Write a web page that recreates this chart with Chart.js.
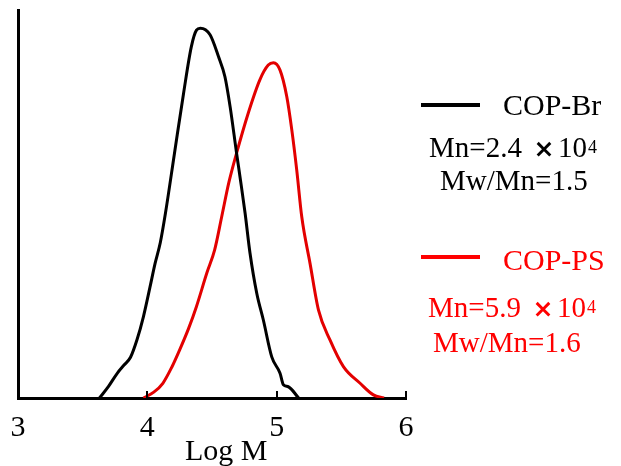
<!DOCTYPE html>
<html>
<head>
<meta charset="utf-8">
<script src="https://cdn.jsdelivr.net/npm/chart.js@4.4.1/dist/chart.umd.min.js"></script>
<style>
  html, body { margin: 0; padding: 0; background: #fff; }
  #wrap { width: 621px; height: 466px; position: relative; }
</style>
</head>
<body>
<div id="wrap"><canvas id="gpc"></canvas></div>
<script>
// GPC traces (normalised intensity vs Log M)
const brLogM = [3.63, 3.70, 3.77, 3.82, 3.87, 3.92, 3.97, 4.02, 4.06, 4.10, 4.14, 4.21, 4.28, 4.34, 4.38, 4.41, 4.485, 4.55, 4.60, 4.64, 4.69, 4.72, 4.756, 4.794, 4.846, 4.897, 4.962, 5.026, 5.052, 5.09, 5.17];
const brInt  = [0.00, 0.03, 0.065, 0.085, 0.105, 0.15, 0.21, 0.285, 0.347, 0.40, 0.476, 0.631, 0.785, 0.905, 0.948, 0.953, 0.936, 0.880, 0.828, 0.751, 0.631, 0.562, 0.476, 0.373, 0.270, 0.201, 0.106, 0.064, 0.034, 0.029, 0.00];
const psLogM = [3.97, 4.05, 4.12, 4.19, 4.25, 4.32, 4.38, 4.46, 4.52, 4.575, 4.63, 4.69, 4.78, 4.87, 4.935, 4.975, 5.026, 5.078, 5.117, 5.155, 5.194, 5.258, 5.323, 5.413, 5.516, 5.645, 5.748, 5.83];
const psInt  = [0.00, 0.015, 0.038, 0.08, 0.124, 0.18, 0.236, 0.322, 0.381, 0.467, 0.555, 0.631, 0.734, 0.820, 0.858, 0.864, 0.845, 0.777, 0.691, 0.588, 0.467, 0.347, 0.227, 0.149, 0.081, 0.038, 0.008, 0.00];
const xTicks = [3, 4, 5, 6];

const seriesNames = ['COP-Br', 'COP-PS'];
const lineColors = ['#000000', '#e30000'];
const textColors = ['#000000', '#ff0000'];
const mnText = ['Mn=2.4', 'Mn=5.9'];
const pdiText = ['Mw/Mn=1.5', 'Mw/Mn=1.6'];

const FONT = '"Liberation Serif", "Times New Roman", serif';

function toPoints(xs, ys) {
    return xs.map((x, i) => ({ x: x, y: ys[i] }));
}

// inward ticks, axis title and the side legend
const decor = {
    id: 'decor',
    afterDraw(chart) {
        const ctx = chart.ctx;
        const xs = chart.scales.x;
        const bottom = chart.chartArea.bottom;
        ctx.save();
        ctx.strokeStyle = '#000';
        ctx.lineWidth = 2;
        xTicks.forEach(t => {
            const px = Math.round(xs.getPixelForValue(t));
            ctx.beginPath();
            ctx.moveTo(px, bottom);
            ctx.lineTo(px, bottom - 7);
            ctx.stroke();
        });

        ctx.fillStyle = '#000';
        ctx.font = '30px ' + FONT;
        ctx.textBaseline = 'alphabetic';
        ctx.textAlign = 'left';
        ctx.fillText('Log M', 185, 460);

        const blocks = [
            { lineY: 105, name: 115, mn: 157, pdi: 190, mnX: 429, pdiX: 440 },
            { lineY: 257, name: 270, mn: 317, pdi: 352, mnX: 428, pdiX: 433 }
        ];
        blocks.forEach((b, i) => {
            const c = textColors[i];
            ctx.strokeStyle = c;
            ctx.lineWidth = 4;
            ctx.beginPath();
            ctx.moveTo(421, b.lineY);
            ctx.lineTo(480, b.lineY);
            ctx.stroke();

            ctx.fillStyle = c;
            ctx.textAlign = 'left';
            ctx.font = '30px ' + FONT;
            ctx.fillText(seriesNames[i], 503, b.name);

            ctx.font = '29px ' + FONT;
            let x = b.mnX;
            ctx.fillText(mnText[i], x, b.mn);
            x += ctx.measureText(mnText[i]).width + 22;
            ctx.font = 'bold 25px "DejaVu Sans", sans-serif';
            ctx.textAlign = 'center';
            ctx.fillText('\u00d7', x, b.mn);
            x += 14;
            ctx.textAlign = 'left';
            ctx.font = '29px ' + FONT;
            ctx.fillText('10', x, b.mn);
            x += ctx.measureText('10').width + 1;
            ctx.font = '18px ' + FONT;
            ctx.fillText('4', x, b.mn - 4);

            ctx.font = '29px ' + FONT;
            ctx.fillText(pdiText[i], b.pdiX, b.pdi);
        });
        ctx.restore();
    }
};

new Chart(document.getElementById('gpc'), {
    type: 'line',
    data: {
        datasets: [
            { label: seriesNames[0], data: toPoints(brLogM, brInt), borderColor: lineColors[0], borderWidth: 3 },
            { label: seriesNames[1], data: toPoints(psLogM, psInt), borderColor: lineColors[1], borderWidth: 3 }
        ]
    },
    options: {
        responsive: true,
        maintainAspectRatio: false,
        animation: false,
        layout: { padding: { top: 10, right: 215, left: 0, bottom: 0 } },
        elements: { point: { radius: 0 }, line: { tension: 0.4, cubicInterpolationMode: 'monotone' } },
        plugins: { legend: { display: false }, tooltip: { enabled: false } },
        scales: {
            x: {
                type: 'linear',
                min: 3,
                max: 6,
                afterFit(scale) { scale.height = 68; },
                afterBuildTicks(scale) { scale.ticks = xTicks.map(v => ({ value: v })); },
                grid: { display: false },
                border: { display: true, color: '#000', width: 3 },
                ticks: { color: '#000', padding: 4, maxRotation: 0, font: { family: FONT, size: 30 } }
            },
            y: {
                min: 0,
                max: 1,
                afterFit(scale) { scale.width = 18; },
                grid: { display: false },
                border: { display: true, color: '#000', width: 3 },
                ticks: { display: false }
            }
        }
    },
    plugins: [decor]
});
</script>
</body>
</html>
